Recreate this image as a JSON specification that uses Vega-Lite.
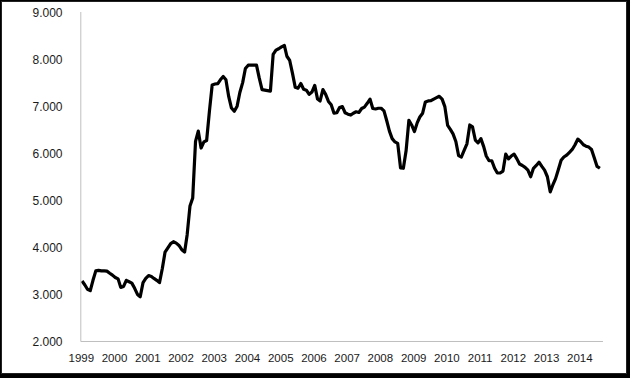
{
  "$schema": "https://vega.github.io/schema/vega-lite/v6.json",
  "autosize": {"type": "none"},
  "width": 625,
  "height": 372,
  "padding": {"left": 1, "top": 1, "right": 4, "bottom": 5},
  "background": "#000000",
  "config": {
    "view": {"fill": "white", "stroke": "#222222", "strokeWidth": 1},
    "axis": {"labelFont": "Liberation Sans", "labelColor": "#1a1a1a", "domain": false, "ticks": false, "tickSize": 0, "grid": false, "title": null}
  },
  "layer": [
    {
      "data": {"values": [
        {"d":"1999-01-15","v":3285},{"d":"1999-02-15","v":3200},{"d":"1999-03-15","v":3110},{"d":"1999-04-15","v":3080},{"d":"1999-05-15","v":3300},{"d":"1999-06-15","v":3500},{"d":"1999-07-15","v":3510},{"d":"1999-08-15","v":3500},{"d":"1999-09-15","v":3500},{"d":"1999-10-15","v":3495},{"d":"1999-11-15","v":3450},{"d":"1999-12-15","v":3410},
        {"d":"2000-01-15","v":3360},{"d":"2000-02-15","v":3330},{"d":"2000-03-15","v":3150},{"d":"2000-04-15","v":3170},{"d":"2000-05-15","v":3300},{"d":"2000-06-15","v":3270},{"d":"2000-07-15","v":3240},{"d":"2000-08-15","v":3130},{"d":"2000-09-15","v":3000},{"d":"2000-10-15","v":2950},{"d":"2000-11-15","v":3250},{"d":"2000-12-15","v":3340},
        {"d":"2001-01-15","v":3400},{"d":"2001-02-15","v":3380},{"d":"2001-03-15","v":3340},{"d":"2001-04-15","v":3300},{"d":"2001-05-15","v":3250},{"d":"2001-06-15","v":3550},{"d":"2001-07-15","v":3900},{"d":"2001-08-15","v":3990},{"d":"2001-09-15","v":4080},{"d":"2001-10-15","v":4120},{"d":"2001-11-15","v":4090},{"d":"2001-12-15","v":4040},
        {"d":"2002-01-15","v":3950},{"d":"2002-02-15","v":3900},{"d":"2002-03-15","v":4270},{"d":"2002-04-15","v":4880},{"d":"2002-05-15","v":5050},{"d":"2002-06-15","v":6250},{"d":"2002-07-15","v":6470},{"d":"2002-08-15","v":6110},{"d":"2002-09-15","v":6240},{"d":"2002-10-15","v":6270},{"d":"2002-11-15","v":6900},{"d":"2002-12-15","v":7450},
        {"d":"2003-01-15","v":7470},{"d":"2003-02-15","v":7480},{"d":"2003-03-15","v":7560},{"d":"2003-04-15","v":7630},{"d":"2003-05-15","v":7560},{"d":"2003-06-15","v":7200},{"d":"2003-07-15","v":6960},{"d":"2003-08-15","v":6890},{"d":"2003-09-15","v":7000},{"d":"2003-10-15","v":7290},{"d":"2003-11-15","v":7500},{"d":"2003-12-15","v":7800},
        {"d":"2004-01-15","v":7870},{"d":"2004-02-15","v":7870},{"d":"2004-03-15","v":7870},{"d":"2004-04-15","v":7870},{"d":"2004-05-15","v":7600},{"d":"2004-06-15","v":7350},{"d":"2004-07-15","v":7340},{"d":"2004-08-15","v":7330},{"d":"2004-09-15","v":7320},{"d":"2004-10-15","v":8100},{"d":"2004-11-15","v":8190},{"d":"2004-12-15","v":8220},
        {"d":"2005-01-15","v":8260},{"d":"2005-02-15","v":8290},{"d":"2005-03-15","v":8060},{"d":"2005-04-15","v":7970},{"d":"2005-05-15","v":7700},{"d":"2005-06-15","v":7400},{"d":"2005-07-15","v":7380},{"d":"2005-08-15","v":7480},{"d":"2005-09-15","v":7360},{"d":"2005-10-15","v":7340},{"d":"2005-11-15","v":7250},{"d":"2005-12-15","v":7300},
        {"d":"2006-01-15","v":7440},{"d":"2006-02-15","v":7150},{"d":"2006-03-15","v":7110},{"d":"2006-04-15","v":7350},{"d":"2006-05-15","v":7250},{"d":"2006-06-15","v":7100},{"d":"2006-07-15","v":7030},{"d":"2006-08-15","v":6850},{"d":"2006-09-15","v":6860},{"d":"2006-10-15","v":6970},{"d":"2006-11-15","v":6990},{"d":"2006-12-15","v":6860},
        {"d":"2007-01-15","v":6830},{"d":"2007-02-15","v":6810},{"d":"2007-03-15","v":6850},{"d":"2007-04-15","v":6880},{"d":"2007-05-15","v":6865},{"d":"2007-06-15","v":6950},{"d":"2007-07-15","v":6980},{"d":"2007-08-15","v":7060},{"d":"2007-09-15","v":7150},{"d":"2007-10-15","v":6950},{"d":"2007-11-15","v":6940},{"d":"2007-12-15","v":6955},
        {"d":"2008-01-15","v":6955},{"d":"2008-02-15","v":6900},{"d":"2008-03-15","v":6700},{"d":"2008-04-15","v":6470},{"d":"2008-05-15","v":6310},{"d":"2008-06-15","v":6240},{"d":"2008-07-15","v":6210},{"d":"2008-08-15","v":5690},{"d":"2008-09-15","v":5680},{"d":"2008-10-15","v":6050},{"d":"2008-11-15","v":6700},{"d":"2008-12-15","v":6600},
        {"d":"2009-01-15","v":6460},{"d":"2009-02-15","v":6650},{"d":"2009-03-15","v":6770},{"d":"2009-04-15","v":6850},{"d":"2009-05-15","v":7090},{"d":"2009-06-15","v":7110},{"d":"2009-07-15","v":7115},{"d":"2009-08-15","v":7150},{"d":"2009-09-15","v":7180},{"d":"2009-10-15","v":7210},{"d":"2009-11-15","v":7150},{"d":"2009-12-15","v":6990},
        {"d":"2010-01-15","v":6590},{"d":"2010-02-15","v":6500},{"d":"2010-03-15","v":6410},{"d":"2010-04-15","v":6250},{"d":"2010-05-15","v":5950},{"d":"2010-06-15","v":5920},{"d":"2010-07-15","v":6060},{"d":"2010-08-15","v":6200},{"d":"2010-09-15","v":6600},{"d":"2010-10-15","v":6560},{"d":"2010-11-15","v":6280},{"d":"2010-12-15","v":6220},
        {"d":"2011-01-15","v":6310},{"d":"2011-02-15","v":6140},{"d":"2011-03-15","v":5940},{"d":"2011-04-15","v":5840},{"d":"2011-05-15","v":5840},{"d":"2011-06-15","v":5680},{"d":"2011-07-15","v":5580},{"d":"2011-08-15","v":5580},{"d":"2011-09-15","v":5620},{"d":"2011-10-15","v":5980},{"d":"2011-11-15","v":5880},{"d":"2011-12-15","v":5940},
        {"d":"2012-01-15","v":5980},{"d":"2012-02-15","v":5880},{"d":"2012-03-15","v":5770},{"d":"2012-04-15","v":5740},{"d":"2012-05-15","v":5700},{"d":"2012-06-15","v":5640},{"d":"2012-07-15","v":5500},{"d":"2012-08-15","v":5680},{"d":"2012-09-15","v":5740},{"d":"2012-10-15","v":5810},{"d":"2012-11-15","v":5720},{"d":"2012-12-15","v":5640},
        {"d":"2013-01-15","v":5500},{"d":"2013-02-15","v":5180},{"d":"2013-03-15","v":5320},{"d":"2013-04-15","v":5460},{"d":"2013-05-15","v":5650},{"d":"2013-06-15","v":5850},{"d":"2013-07-15","v":5920},{"d":"2013-08-15","v":5960},{"d":"2013-09-15","v":6020},{"d":"2013-10-15","v":6080},{"d":"2013-11-15","v":6180},{"d":"2013-12-15","v":6300},
        {"d":"2014-01-15","v":6250},{"d":"2014-02-15","v":6180},{"d":"2014-03-15","v":6150},{"d":"2014-04-15","v":6130},{"d":"2014-05-15","v":6080},{"d":"2014-06-15","v":5900},{"d":"2014-07-15","v":5720},{"d":"2014-08-15","v":5680}
      ]},
      "mark": {"type": "line", "color": "#000000", "strokeWidth": 3.2, "strokeJoin": "round", "strokeCap": "butt"},
      "encoding": {
        "x": {
          "field": "d", "type": "temporal",
          "scale": {"type": "utc", "domain": [{"year": 1996, "month": 8, "date": 7, "utc": true}, {"year": 2015, "month": 5, "date": 29, "utc": true}]},
          "axis": {
            "orient": "bottom", "offset": -31.5, "format": "%Y", "labelFontSize": 11.5, "labelPadding": 11, "labelAlign": "center", "labelFlush": false, "labelOverlap": false,
            "values": [
              {"year": 1999, "month": 1, "date": 1, "utc": true}, {"year": 2000, "month": 1, "date": 1, "utc": true}, {"year": 2001, "month": 1, "date": 1, "utc": true}, {"year": 2002, "month": 1, "date": 1, "utc": true},
              {"year": 2003, "month": 1, "date": 1, "utc": true}, {"year": 2004, "month": 1, "date": 1, "utc": true}, {"year": 2005, "month": 1, "date": 1, "utc": true}, {"year": 2006, "month": 1, "date": 1, "utc": true},
              {"year": 2007, "month": 1, "date": 1, "utc": true}, {"year": 2008, "month": 1, "date": 1, "utc": true}, {"year": 2009, "month": 1, "date": 1, "utc": true}, {"year": 2010, "month": 1, "date": 1, "utc": true},
              {"year": 2011, "month": 1, "date": 1, "utc": true}, {"year": 2012, "month": 1, "date": 1, "utc": true}, {"year": 2013, "month": 1, "date": 1, "utc": true}, {"year": 2014, "month": 1, "date": 1, "utc": true}
            ]
          }
        },
        "y": {
          "field": "v", "type": "quantitative",
          "scale": {"domain": [1330.8, 9233.7], "nice": false, "zero": false},
          "axis": {
            "orient": "left", "offset": -79, "values": [2000, 3000, 4000, 5000, 6000, 7000, 8000, 9000],
            "labelExpr": "replace(format(datum.value, ','), ',', '.')",
            "labelFontSize": 12, "labelPadding": 18, "labelAlign": "right", "labelBaseline": "middle"
          }
        }
      }
    },
    {
      "data": {"values": [{}]},
      "mark": {"type": "rule", "color": "#bfbfbf", "strokeWidth": 1},
      "encoding": {
        "x": {"datum": {"year": 1999, "month": 1, "date": 1, "utc": true}, "type": "temporal", "scale": {"type": "utc"}},
        "y": {"datum": 2000, "type": "quantitative"},
        "y2": {"datum": 9000}
      }
    },
    {
      "data": {"values": [{}]},
      "mark": {"type": "rule", "color": "#bfbfbf", "strokeWidth": 1},
      "encoding": {
        "x": {"datum": {"year": 1999, "month": 1, "date": 1, "utc": true}, "type": "temporal", "scale": {"type": "utc"}},
        "x2": {"datum": {"year": 2014, "month": 9, "date": 18, "utc": true}},
        "y": {"datum": 2000, "type": "quantitative"}
      }
    }
  ]
}
